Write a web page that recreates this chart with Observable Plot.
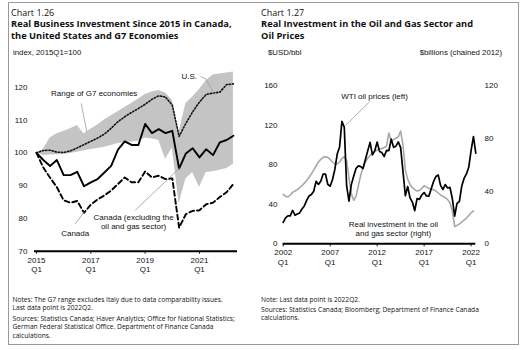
<!DOCTYPE html>
<html><head><meta charset="utf-8">
<script src="https://cdn.jsdelivr.net/npm/d3@7"></script>
<script src="https://cdn.jsdelivr.net/npm/@observablehq/plot@0.6"></script>
<style>
body{margin:0;background:#fff;width:524px;height:350px;position:relative;overflow:hidden;font-family:"Open Sans",sans-serif;color:#111}
.frame{position:absolute;left:8px;top:2px;width:511px;height:343px;border:1px solid #9a9a9a;box-sizing:border-box}
.t{position:absolute;white-space:nowrap;margin:0}
.num{font-size:9px;line-height:11px}
.ttl{font-size:9.3px;font-weight:700;line-height:11.7px}
.unit{font-family:"Liberation Sans",Arial,sans-serif;font-size:7.8px;line-height:9px}
.note{font-size:6.65px;line-height:8.3px}
.plot{position:absolute;top:0}
.plot svg{display:block}
</style></head>
<body>
<div class="frame"></div>
<div class="t num" style="left:11px;top:6.5px">Chart 1.26</div>
<div class="t ttl" style="left:11px;top:18px">Real Business Investment Since 2015 in Canada,<br>the United States and G7 Economies</div>
<div class="t num" style="left:261px;top:6.5px">Chart 1.27</div>
<div class="t ttl" style="left:261px;top:18px">Real Investment in the Oil and Gas Sector and<br>Oil Prices</div>
<div class="t unit" style="left:13px;top:48px">index, 2015Q1=100</div>
<div class="t unit" style="left:268px;top:48px">$USD/bbl</div>
<div class="t unit" style="right:22px;top:48px">$billions (chained 2012)</div>
<div id="left" class="plot" style="left:0"></div>
<div id="right" class="plot" style="left:262px"></div>
<div class="t note" style="left:12.5px;top:296px">Notes: The G7 range excludes Italy due to data comparability issues.<br>Last data point is 2022Q2.</div>
<div class="t note" style="left:12.5px;top:315px">Sources: Statistics Canada; Haver Analytics; Office for National Statistics;<br>German Federal Statistical Office. Department of Finance Canada<br>calculations.</div>
<div class="t note" style="left:261px;top:295.5px">Note: Last data point is 2022Q2.</div>
<div class="t note" style="left:261px;top:306px">Sources: Statistics Canada; Bloomberg; Department of Finance Canada<br>calculations.</div>
<script>
// ---------- Chart 1.26 data (quarterly, 2015Q1 .. 2022Q2) ----------
const quarters126 = ["2015Q1","2015Q2","2015Q3","2015Q4","2016Q1","2016Q2","2016Q3","2016Q4",
  "2017Q1","2017Q2","2017Q3","2017Q4","2018Q1","2018Q2","2018Q3","2018Q4",
  "2019Q1","2019Q2","2019Q3","2019Q4","2020Q1","2020Q2","2020Q3","2020Q4",
  "2021Q1","2021Q2","2021Q3","2021Q4","2022Q1","2022Q2"];
const canadaExOilGas = [100, 97.8, 96, 97.8, 93.2, 93.2, 94.2, 89.8, 91, 92, 94, 96, 101, 103.5, 102.4, 102.4,
  108.8, 106, 107.2, 106, 106.7, 95.2, 99.8, 101.4, 98.6, 101.1, 99.3, 103.2, 103.9, 105.2];
const canadaTotal = [100, 95.5, 92.4, 89.5, 85.5, 84.8, 85.3, 81.7, 84.2, 85.8, 87, 88.5, 90.5, 92.5, 91, 91,
  94.3, 92.5, 93, 92, 92.2, 77.2, 81.3, 82.3, 82.5, 84.3, 84.8, 86.5, 88, 90.5];
const unitedStates = [100, 100.7, 100.8, 100.2, 100.1, 100.6, 101.5, 102.5, 103.5, 104.5, 105.7, 107.5, 109.5, 111, 112.3, 113.5,
  114.8, 116.3, 117.4, 117, 114.5, 105, 109, 112.5, 115.5, 117.8, 118.2, 118.5, 120.8, 121];
const g7High = [100, 101, 104.5, 105.8, 106.5, 107.3, 108.3, 105.7, 107.2, 108.5, 110, 111.3, 112.5, 113.8, 115, 116.3,
  117.8, 118.5, 119, 118.2, 116, 106.3, 115, 117, 119.3, 122, 123.7, 124, 124.3, 124.6];
const g7Low = [100, 99.2, 99.3, 99.4, 99.5, 99.8, 100.2, 100.6, 101, 101.3, 101.7, 102.2, 102.8, 103.1, 103.3, 103.5,
  104.5, 104.2, 103.8, 98, 101.5, 84.5, 92, 94, 89.5, 94, 94.2, 94.7, 95.2, 96.5];
const ticks126 = [70, 80, 90, 100, 110, 120];
const xTicks126 = ["2015Q1", "2017Q1", "2019Q1", "2021Q1"];

// ---------- Chart 1.27 data (quarterly from 2002Q1) ----------
const wtiPrice = [21.6, 26.3, 28.3, 28.2, 33.9, 28.9, 30.2, 31.2, 35.2, 38.3, 43.9, 48.3,
  49.8, 53.1, 63.2, 60.0, 63.3, 70.5, 70.5, 60.0, 58.2, 65.0, 75.4, 90.7,
  97.9, 123.8, 117.9, 58.7, 43.2, 59.8, 68.2, 76.1, 78.7, 78.0, 76.1, 85.2,
  94.1, 102.6, 89.8, 94.1, 102.9, 93.4, 92.2, 88.2, 94.4, 94.2, 105.8, 97.5,
  98.7, 103.0, 97.2, 73.2, 48.6, 57.9, 46.4, 42.2, 33.5, 45.6, 44.9, 49.3,
  51.8, 48.3, 48.2, 55.4, 62.9, 68.0, 69.5, 59.0, 54.9, 59.9, 56.4, 57.0,
  45.8, 27.9, 40.9, 42.7, 58.1, 66.1, 70.6, 77.3, 94.4, 108.4, 91.6];
const oilGasInvestment = [37.5, 36, 35.5, 37, 39, 40, 41, 42.5, 44, 46, 48, 50.5,
  53, 56, 59, 62, 64, 65.5, 66, 65.5, 64, 62, 60.5, 60.5,
  62, 64.5, 66, 63, 50, 38, 33, 36, 44, 52, 58, 62,
  65, 67, 69, 70, 71, 72, 72, 73, 74, 84, 78, 79,
  80, 81, 85.5, 75, 56, 49, 45, 42.5, 41, 40, 40.5, 42,
  44, 43, 42, 41.5, 41, 40, 38.5, 37, 36, 35, 33.5, 31,
  25, 13, 14, 15, 16.5, 18, 19.5, 21.5, 23.5, 25];
const startYear127 = 2002;
const leftTicks127 = [0, 40, 80, 120, 160];
const rightTicks127 = [0, 40, 80, 120];
const xTickYears127 = [2002, 2007, 2012, 2017, 2022];

// ---------- build tables ----------
const rows126 = quarters126.map((q, i) => ({i, q, exOil: canadaExOilGas[i], canada: canadaTotal[i], us: unitedStates[i], lo: g7Low[i], hi: g7High[i]}));
const qIndex126 = q => quarters126.indexOf(q);
const wtiRows = wtiPrice.map((v, j) => ({j, v}));
const invScale = 160 / 120; // right axis -> left axis units
const invRows = oilGasInvestment.map((v, j) => ({j, v: v * invScale}));

const font = "'Liberation Sans', Arial, sans-serif";

// annotations (data coordinates)
const labels126 = [
  {i: 8.5, v: 118, text: "Range of G7 economies"},
  {i: 22.5, v: 123.4, text: "U.S."},
  {i: 14.3, v: 79, text: "Canada (excluding the\noil and gas sector)"},
  {i: 5.7, v: 75.5, text: "Canada"}
];
const leaders126 = [
  {id: "g7", pts: [[6.6, 114.9], [7.4, 106.5]]},
  {id: "us", pts: [[24.2, 123.2], [24.9, 122.6], [26.1, 118.3]]},
  {id: "exoil", pts: [[14.6, 82.6], [21.1, 95.4]]},
  {id: "can", pts: [[5.7, 78.3], [7.0, 81.9]]}
].flatMap(d => d.pts.map(([i, v]) => ({id: d.id, i, v})));

const left = Plot.plot({
  width: 262, height: 290,
  marginLeft: 36, marginRight: 25, marginTop: 70.3, marginBottom: 39.3,
  x: {domain: [0, 29.6], axis: null, label: null},
  y: {domain: [70, 125], axis: null, label: null},
  style: {fontFamily: font, fontSize: "8px", background: "transparent", overflow: "visible", color: "#111"},
  marks: [
    Plot.areaY(rows126, {x: "i", y1: "lo", y2: "hi", fill: "#c4c4c4"}),
    Plot.line(rows126, {x: "i", y: "us", stroke: "#111", strokeWidth: 1.6, strokeDasharray: "1.3,1.9"}),
    Plot.line(rows126, {x: "i", y: "canada", stroke: "#000", strokeWidth: 1.9, strokeDasharray: "5,3"}),
    Plot.line(rows126, {x: "i", y: "exOil", stroke: "#000", strokeWidth: 1.9}),
    Plot.line(leaders126, {x: "i", y: "v", z: "id", stroke: "#9a9a9a", strokeWidth: 0.8}),
    Plot.ruleY([70], {x1: -0.3, x2: 29.6, stroke: "#000", strokeWidth: 2}),
    Plot.axisX({ticks: xTicks126.map(qIndex126), tickFormat: i => quarters126[i].replace("Q", "\nQ"), tickSize: 3, tickPadding: 2, lineHeight: 1.15, fontSize: 8, label: null}),
    Plot.axisY({ticks: ticks126, tickSize: 0, tickPadding: 9, fontSize: 8, label: null}),
    Plot.text(labels126, {x: "i", y: "v", text: "text", fontSize: 8, lineHeight: 1.05, fill: "#111"})
  ]
});
document.getElementById("left").appendChild(left);

const labels127 = [
  {j: 38.9, v: 149, text: "WTI oil prices (left)"},
  {j: 46.9, v: 15.5, text: "Real investment in the oil\nand gas sector (right)"}
];
const leaders127 = [{j1: 36.7, v1: 143.4, j2: 26.6, v2: 119.8}];

const right = Plot.plot({
  width: 262, height: 290,
  marginLeft: 20.7, marginRight: 48.7, marginTop: 85, marginBottom: 46.7,
  x: {domain: [0, 82], axis: null, label: null},
  y: {domain: [0, 160], axis: null, label: null},
  style: {fontFamily: font, fontSize: "8px", background: "transparent", overflow: "visible", color: "#111"},
  marks: [
    Plot.line(invRows, {x: "j", y: "v", stroke: "#a8a8a8", strokeWidth: 1.6}),
    Plot.line(wtiRows, {x: "j", y: "v", stroke: "#000", strokeWidth: 1.7}),
    Plot.link(leaders127, {x1: "j1", y1: "v1", x2: "j2", y2: "v2", stroke: "#9a9a9a", strokeWidth: 0.8}),
    Plot.ruleY([0], {x1: 0, x2: 82, stroke: "#000", strokeWidth: 2}),
    Plot.axisX({ticks: xTickYears127.map(y => (y - startYear127) * 4), tickFormat: j => `${startYear127 + j / 4}\nQ1`, tickSize: 3, tickPadding: 2, lineHeight: 1.15, fontSize: 8, label: null}),
    Plot.axisY({ticks: leftTicks127, anchor: "left", tickSize: 0, tickPadding: 5.7, fontSize: 8, label: null}),
    Plot.axisY({ticks: rightTicks127.map(v => v * invScale), anchor: "right", tickFormat: v => Math.round(v / invScale), tickSize: 0, tickPadding: 8.7, fontSize: 8, label: null}),
    Plot.text(labels127, {x: "j", y: "v", text: "text", fontSize: 8, lineHeight: 1.1, fill: "#111"})
  ]
});
document.getElementById("right").appendChild(right);
</script>
</body></html>
